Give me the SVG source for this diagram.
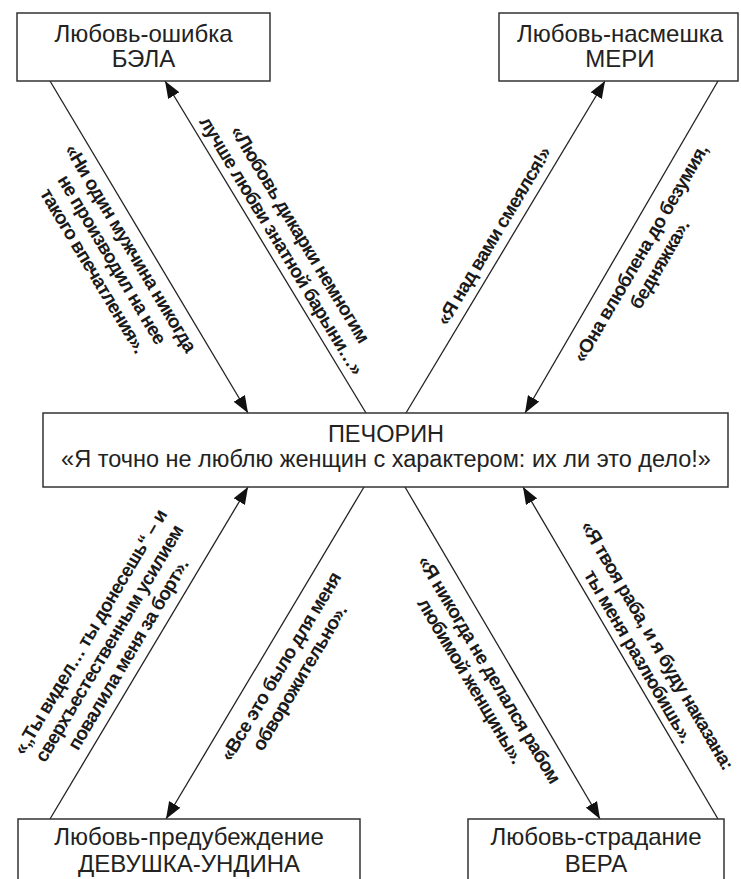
<svg xmlns="http://www.w3.org/2000/svg" width="741" height="879" viewBox="0 0 741 879">
<defs>
<style>
.box{fill:#fff;stroke:#333;stroke-width:1.5}
.t{font-family:"Liberation Sans",Arial,sans-serif;font-size:24px;fill:#222;text-anchor:middle}
.tc{font-family:"Liberation Sans",Arial,sans-serif;font-size:23.5px;fill:#222;text-anchor:middle}
.lbl{font-family:"Liberation Sans",Arial,sans-serif;font-size:19px;letter-spacing:-0.7px;font-weight:bold;fill:#1a1a1a;text-anchor:middle}
.con{stroke:#222;stroke-width:1.3;fill:none;marker-end:url(#ah)}
</style>
<marker id="ah" markerUnits="userSpaceOnUse" markerWidth="17" markerHeight="13" refX="17" refY="6.5" orient="auto">
<path d="M0,0 L17,6.5 L0,13 z" fill="#111"/>
</marker>
</defs>
<rect width="741" height="879" fill="#fff"/>
<g id="connectors">
<line class="con" x1="50" y1="81" x2="248" y2="413"/>
<line class="con" x1="366" y1="413" x2="165" y2="81"/>
<line class="con" x1="406" y1="413" x2="605" y2="81"/>
<line class="con" x1="718" y1="81" x2="525" y2="413"/>
<line class="con" x1="50" y1="819" x2="248" y2="487"/>
<line class="con" x1="364" y1="487" x2="166" y2="819"/>
<line class="con" x1="405" y1="487" x2="600" y2="819"/>
<line class="con" x1="718" y1="819" x2="523" y2="487"/>
</g>
<g id="labels">
<g transform="translate(145,239.5) rotate(59.2)">
<text class="lbl" x="0" y="23">«Ни один мужчина никогда</text>
<text class="lbl" x="0" y="45">не производил на нее</text>
<text class="lbl" x="0" y="67">такого впечатления».</text>
</g>
<g transform="translate(269,253) rotate(58.8)">
<text class="lbl" x="0" y="-30">«Любовь дикарки немногим</text>
<text class="lbl" x="0" y="-8">лучше любви знатной барыни…»</text>
</g>
<g transform="translate(507,244) rotate(-59.1)">
<text class="lbl" x="0" y="-9">«Я над вами смеялся!»</text>
</g>
<g transform="translate(623.6,243.5) rotate(-59.8)">
<text class="lbl" x="0" y="26">«Она влюблена до безумия,</text>
<text class="lbl" x="0" y="48">бедняжка».</text>
</g>
<g transform="translate(143,663.5) rotate(-59.3)">
<text class="lbl" x="0" y="-55">«„Ты видел… ты донесешь“ – и</text>
<text class="lbl" x="0" y="-33">сверхъестественным усилием</text>
<text class="lbl" x="0" y="-11">повалила меня за борт».</text>
</g>
<g transform="translate(263,656) rotate(-59.1)">
<text class="lbl" x="0" y="27">«Все это было для меня</text>
<text class="lbl" x="0" y="49">обворожительно».</text>
</g>
<g transform="translate(507,659) rotate(59.3)">
<text class="lbl" x="0" y="27">«Я никогда не делался рабом</text>
<text class="lbl" x="0" y="49">любимой женщины».</text>
</g>
<g transform="translate(625,664) rotate(59.8)">
<text class="lbl" x="0" y="-31">«Я твоя раба, и я буду наказана:</text>
<text class="lbl" x="0" y="-9">ты меня разлюбишь».</text>
</g>
</g>
<g id="bela">
<rect class="box" x="17" y="13" width="253" height="68"/>
<text class="t" x="143.5" y="42">Любовь-ошибка</text>
<text class="t" x="143.5" y="67">БЭЛА</text>
</g>
<g id="meri">
<rect class="box" x="499" y="13" width="239" height="68"/>
<text class="t" x="620" y="42">Любовь-насмешка</text>
<text class="t" x="620" y="67">МЕРИ</text>
</g>
<g id="pechorin">
<rect class="box" x="43" y="413" width="685" height="74"/>
<text class="tc" x="386" y="442">ПЕЧОРИН</text>
<text class="tc" x="386" y="467">«Я точно не люблю женщин с характером: их ли это дело!»</text>
</g>
<g id="undina">
<rect class="box" x="18" y="819" width="342" height="70"/>
<text class="t" x="189" y="845">Любовь-предубеждение</text>
<text class="t" x="189" y="872">ДЕВУШКА-УНДИНА</text>
</g>
<g id="vera">
<rect class="box" x="468" y="819" width="256" height="70"/>
<text class="t" x="596" y="845">Любовь-страдание</text>
<text class="t" x="596" y="872">ВЕРА</text>
</g>
</svg>
